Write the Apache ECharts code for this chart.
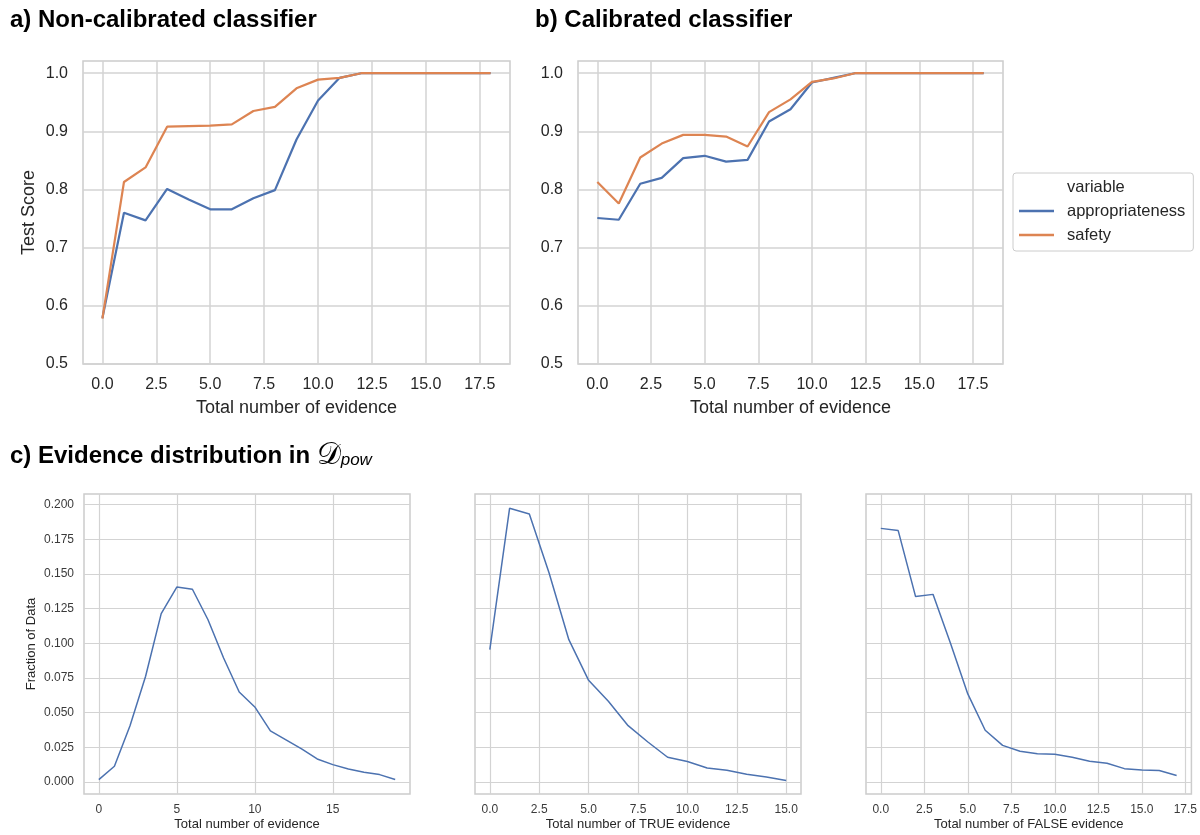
<!DOCTYPE html>
<html>
<head>
<meta charset="utf-8">
<title>Calibration and evidence distribution</title>
<script src="https://cdn.jsdelivr.net/npm/echarts@6/dist/echarts.min.js"></script>
<style>
  html, body { margin: 0; padding: 0; background: #fff; }
  #chart { width: 1200px; height: 835px; }
</style>
</head>
<body>
<div id="chart"></div>
<script>
// x positions: number of evidence pieces
var evidenceSteps = [0, 1, 2, 3, 4, 5, 6, 7, 8, 9, 10, 11, 12, 13, 14, 15, 16, 17, 18]
// a) non-calibrated classifier
var nonCalAppropriateness = [0.579, 0.760, 0.747, 0.801, 0.783, 0.766, 0.766, 0.785, 0.799, 0.886, 0.953, 0.992, 1.0, 1.0, 1.0, 1.0, 1.0, 1.0, 1.0]
var nonCalSafety = [0.578, 0.813, 0.838, 0.908, 0.909, 0.910, 0.912, 0.935, 0.942, 0.974, 0.989, 0.992, 1.0, 1.0, 1.0, 1.0, 1.0, 1.0, 1.0]
// b) calibrated classifier
var calAppropriateness = [0.751, 0.748, 0.810, 0.820, 0.854, 0.858, 0.848, 0.851, 0.917, 0.938, 0.984, 0.992, 1.0, 1.0, 1.0, 1.0, 1.0, 1.0, 1.0]
var calSafety = [0.813, 0.776, 0.855, 0.879, 0.894, 0.894, 0.891, 0.874, 0.933, 0.955, 0.985, 0.991, 1.0, 1.0, 1.0, 1.0, 1.0, 1.0, 1.0]

// c) evidence distribution
var totalSteps = [0, 1, 2, 3, 4, 5, 6, 7, 8, 9, 10, 11, 12, 13, 14, 15, 16, 17, 18, 19]
var totalFraction = [0.0017, 0.0113, 0.0406, 0.0762, 0.1214, 0.1406, 0.1390, 0.1170, 0.0894, 0.0649, 0.0541, 0.0368, 0.0303, 0.0238, 0.0166, 0.0125, 0.0094, 0.0070, 0.0053, 0.0017]
var trueSteps = [0, 1, 2, 3, 4, 5, 6, 7, 8, 9, 10, 11, 12, 13, 14, 15]
var trueFraction = [0.0954, 0.1974, 0.1933, 0.1507, 0.1026, 0.0733, 0.0582, 0.0406, 0.0288, 0.0178, 0.0147, 0.0101, 0.0084, 0.0055, 0.0036, 0.0010]
var falseSteps = [0, 1, 2, 3, 4, 5, 6, 7, 8, 9, 10, 11, 12, 13, 14, 15, 16, 17]
var falseFraction = [0.1829, 0.1813, 0.1337, 0.1353, 0.1002, 0.0635, 0.0373, 0.0264, 0.0221, 0.0204, 0.0200, 0.0178, 0.0149, 0.0135, 0.0096, 0.0087, 0.0082, 0.0046]

// tick labels
var scoreTicks = [0.5, 0.6, 0.7, 0.8, 0.9, 1.0]
var evidenceTicks = [0, 2.5, 5, 7.5, 10, 12.5, 15, 17.5]
var fractionTicks = [0, 0.025, 0.05, 0.075, 0.1, 0.125, 0.15, 0.175, 0.2]
var totalTicks = [0, 5, 10, 15]
var trueTicks = [0, 2.5, 5, 7.5, 10, 12.5, 15]
var falseTicks = [0, 2.5, 5, 7.5, 10, 12.5, 15, 17.5]

var FONT = "'Liberation Sans', Arial, sans-serif"
var BLUE = '#4C72B0'
var ORANGE = '#DD8452'
var GRID_LINE = '#d3d3d3'
var TEXT = '#262626'

function pairs (xs, ys) {
  return xs.map(function (x, i) { return [x, ys[i]] })
}

// shared axis builder, big = top row styling
function axis (gridIndex, min, max, ticks, decimals, big, opts) {
  var fs = big ? 16 : 12
  var a = {
    type: 'value',
    gridIndex: gridIndex,
    min: min,
    max: max,
    axisLine: { show: false },
    axisTick: { show: false, customValues: ticks },
    axisLabel: {
      customValues: ticks,
      fontSize: fs,
      fontFamily: FONT,
      color: big ? TEXT : '#3a3a3a',
      formatter: function (v) { return v.toFixed(decimals) }
    },
    splitLine: { show: true, lineStyle: { color: GRID_LINE, width: big ? 1.5 : 1.2 } },
    nameLocation: 'middle',
    nameTextStyle: { fontSize: big ? 18 : 13, fontFamily: FONT, color: TEXT }
  }
  for (var k in opts) {
    if (k === 'axisLabel') Object.assign(a.axisLabel, opts[k])
    else a[k] = opts[k]
  }
  return a
}

var frame = { show: true, borderColor: '#cccccc', borderWidth: 1.5, backgroundColor: '#fff' }

var option = {
  animation: false,
  backgroundColor: '#fff',
  title: [
    { text: 'a) Non-calibrated classifier', left: 10, top: 8, padding: 0,
      textStyle: { fontSize: 24, fontWeight: 'bold', color: '#000', fontFamily: FONT } },
    { text: 'b) Calibrated classifier', left: 535, top: 8, padding: 0,
      textStyle: { fontSize: 24, fontWeight: 'bold', color: '#000', fontFamily: FONT } },
    { text: '{b|c) Evidence distribution in }{d|𝒟}{p|pow}', left: 10, top: 441, padding: 0,
      textStyle: {
        rich: {
          b: { fontSize: 24, fontWeight: 'bold', color: '#000', fontFamily: FONT },
          d: { fontSize: 30, fontWeight: 'normal', color: '#000', fontFamily: "'DejaVu Serif', serif" },
          p: { fontSize: 17, fontWeight: 'normal', fontStyle: 'italic', color: '#000', fontFamily: FONT, padding: [8, 0, 0, 0] }
        }
      } },
    { text: 'variable', left: 1067, top: 179, padding: 0,
      textStyle: { fontSize: 16.5, fontWeight: 'normal', color: TEXT, fontFamily: FONT } }
  ],
  legend: {
    data: ['appropriateness', 'safety'],
    orient: 'vertical',
    left: 1013,
    top: 173,
    padding: [29, 8, 7, 6],
    itemGap: 6,
    itemWidth: 35,
    itemHeight: 2.5,
    icon: 'rect',
    borderColor: '#cccccc',
    borderWidth: 1,
    borderRadius: 3,
    textStyle: { fontSize: 16.5, fontFamily: FONT, color: TEXT, lineHeight: 18, padding: [0, 0, 0, 8] }
  },
  grid: [
    Object.assign({ left: 83, top: 61, width: 427, height: 303 }, frame),
    Object.assign({ left: 578, top: 61, width: 425, height: 303 }, frame),
    Object.assign({ left: 84, top: 494, width: 326, height: 300 }, frame),
    Object.assign({ left: 475, top: 494, width: 326, height: 300 }, frame),
    Object.assign({ left: 866, top: 494, width: 326, height: 300 }, frame)
  ],
  xAxis: [
    axis(0, -0.9, 18.9, evidenceTicks, 1, true, { name: 'Total number of evidence', nameGap: 35, axisLabel: { margin: 13 } }),
    axis(1, -0.9, 18.9, evidenceTicks, 1, true, { name: 'Total number of evidence', nameGap: 35, axisLabel: { margin: 13 } }),
    axis(2, -0.95, 19.95, totalTicks, 0, false, { name: 'Total number of evidence', nameGap: 24, axisLabel: { margin: 10 } }),
    axis(3, -0.75, 15.75, trueTicks, 1, false, { name: 'Total number of TRUE evidence', nameGap: 24, axisLabel: { margin: 10 } }),
    axis(4, -0.85, 17.85, falseTicks, 1, false, { name: 'Total number of FALSE evidence', nameGap: 24, axisLabel: { margin: 10 } })
  ],
  yAxis: [
    axis(0, 0.5, 1.021, scoreTicks, 1, true, { name: 'Test Score', nameGap: 45, axisLabel: { margin: 15 } }),
    axis(1, 0.5, 1.021, scoreTicks, 1, true, { axisLabel: { margin: 15 } }),
    axis(2, -0.0087, 0.2077, fractionTicks, 3, false, { name: 'Fraction of Data', nameGap: 46, axisLabel: { margin: 10 } }),
    axis(3, -0.0087, 0.2077, fractionTicks, 3, false, { axisLabel: { show: false } }),
    axis(4, -0.0087, 0.2077, fractionTicks, 3, false, { axisLabel: { show: false } })
  ],
  series: [
    { name: 'appropriateness', type: 'line', xAxisIndex: 0, yAxisIndex: 0, symbol: 'none',
      data: pairs(evidenceSteps, nonCalAppropriateness), lineStyle: { color: BLUE, width: 2.2 }, itemStyle: { color: BLUE } },
    { name: 'safety', type: 'line', xAxisIndex: 0, yAxisIndex: 0, symbol: 'none',
      data: pairs(evidenceSteps, nonCalSafety), lineStyle: { color: ORANGE, width: 2.2 }, itemStyle: { color: ORANGE } },
    { name: 'appropriateness', type: 'line', xAxisIndex: 1, yAxisIndex: 1, symbol: 'none',
      data: pairs(evidenceSteps, calAppropriateness), lineStyle: { color: BLUE, width: 2.2 }, itemStyle: { color: BLUE } },
    { name: 'safety', type: 'line', xAxisIndex: 1, yAxisIndex: 1, symbol: 'none',
      data: pairs(evidenceSteps, calSafety), lineStyle: { color: ORANGE, width: 2.2 }, itemStyle: { color: ORANGE } },
    { type: 'line', xAxisIndex: 2, yAxisIndex: 2, symbol: 'none',
      data: pairs(totalSteps, totalFraction), lineStyle: { color: BLUE, width: 1.5 } },
    { type: 'line', xAxisIndex: 3, yAxisIndex: 3, symbol: 'none',
      data: pairs(trueSteps, trueFraction), lineStyle: { color: BLUE, width: 1.5 } },
    { type: 'line', xAxisIndex: 4, yAxisIndex: 4, symbol: 'none',
      data: pairs(falseSteps, falseFraction), lineStyle: { color: BLUE, width: 1.5 } }
  ]
}

var chart = echarts.init(document.getElementById('chart'))
chart.setOption(option)
window.addEventListener('resize', function () { chart.resize() })
</script>
</body>
</html>
